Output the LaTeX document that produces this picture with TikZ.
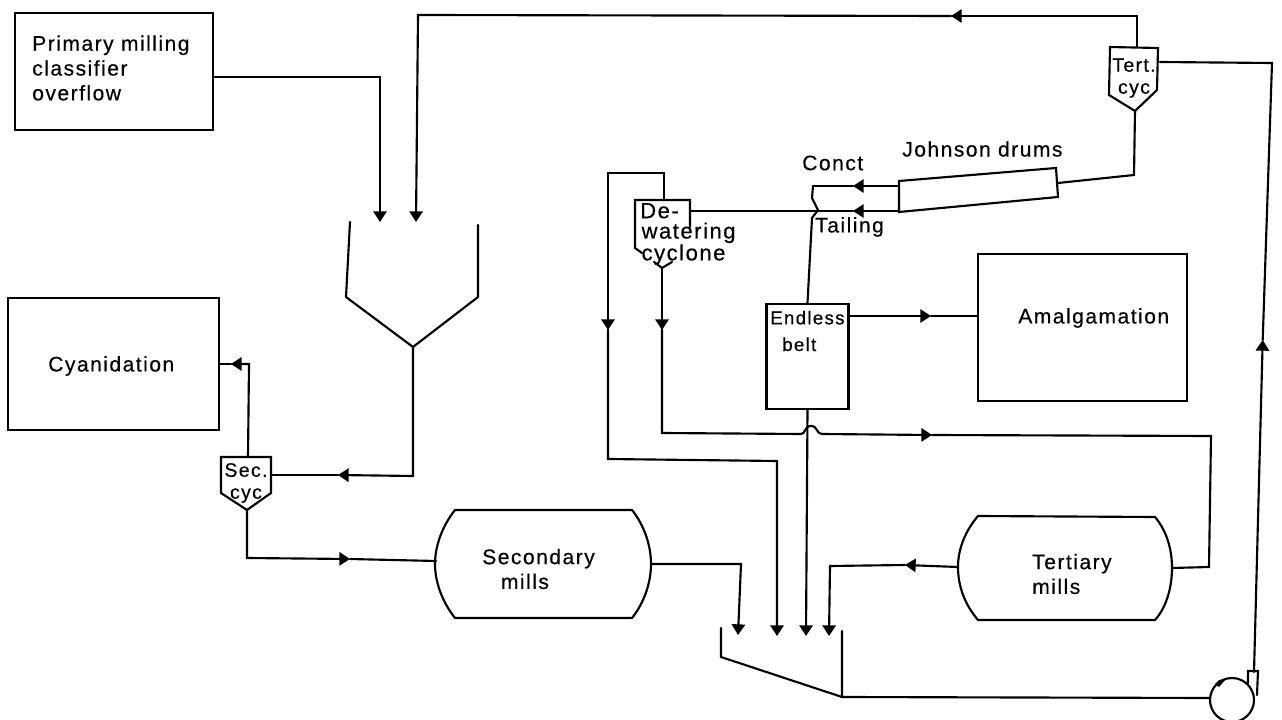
\documentclass[tikz,border=0pt]{standalone}
\usepackage{fontspec}
\setmainfont[LetterSpace=7,FakeBold=0.4]{Liberation Sans}
\usetikzlibrary{arrows.meta}
\tikzset{
  x=0.75pt,y=-0.75pt,
  line/.style={line width=1.6pt,line join=miter,line cap=round,black},
  fin/.style={line,-{Triangle[length=8pt,width=10pt]}},
  boxn/.style={draw,line width=1.6pt,inner sep=0pt},
  lab/.style={font=\fontsize{15.8pt}{18.6pt}\selectfont,align=left,inner sep=0pt},
  small/.style={font=\fontsize{14.6pt}{16.5pt}\selectfont,align=left,inner sep=0pt},
  dwlab/.style={font=\fontsize{16.5pt}{15.2pt}\selectfont,align=left,inner sep=0pt},
  beltlab/.style={font=\fontsize{14pt}{20pt}\selectfont,align=left,inner sep=0pt},
}
\begin{document}
\begin{tikzpicture}
\useasboundingbox (0,0) rectangle (1282,720);
% boxes
\node[boxn,minimum width=198*0.75pt,minimum height=117*0.75pt] (primary) at (114,71.5) {};
\node[boxn,minimum width=211*0.75pt,minimum height=132*0.75pt] (cyan) at (113.5,364) {};
\node[boxn,minimum width=209*0.75pt,minimum height=147*0.75pt] (amal) at (1082.5,327.5) {};
\node[boxn,minimum width=82*0.75pt,minimum height=105*0.75pt] (belt) at (807.5,356.5) {};
% box labels
\node[lab,anchor=west] (tprimary) at (32,68) {Primary milling\\classifier\\overflow};
\node[lab,anchor=west] (tcyan) at (48,366) {Cyanidation};
\node[lab,anchor=west] (tamal) at (1018,318) {Amalgamation};
\node[beltlab,anchor=west] (tbelt) at (770,331) {Endless\\\hspace*{9pt}belt};
\node[lab,anchor=west] (tjohn) at (902,149) {Johnson drums};
\node[lab,anchor=west] (tconct) at (802,163) {Conct};
\node[lab,anchor=west] (ttail) at (815,227) {Tailing};
\node[lab,anchor=west] (tsec) at (482,569) {Secondary\\\hspace*{14pt}mills};
\node[lab,anchor=west] (tter) at (1032,574) {Tertiary\\mills};
% mills
\coordinate (secL) at (435,564); \coordinate (secR) at (651,564); \coordinate (secIn) at (436,561);
\draw[line] (455,510) -- (632,510) .. controls (644,525) and (651,545) .. (secR) .. controls (651,583) and (644,603) .. (632,618) -- (455,618) .. controls (443,603) and (435,583) .. (secL) .. controls (435,545) and (443,525) .. cycle;
\coordinate (terL) at (958,567); \coordinate (terR) at (1172,568);
\draw[line] (978,516) -- (1155,517) .. controls (1166,530) and (1172,548) .. (terR) .. controls (1172,588) and (1166,608) .. (1155,620) -- (978,620) .. controls (966,606) and (958,588) .. (terL) .. controls (958,548) and (966,530) .. cycle;
% receiving hopper
\coordinate (hopTip) at (413,347);
\draw[line] (350,222) -- (346,297) -- (hopTip) -- (478,297) -- (478,225);
% sec cyc
\coordinate (scT) at (248,457); \coordinate (scB) at (247,510); \coordinate (scR) at (272,475);
\draw[line] (221,457) -- (271,457) -- (271,493) -- (scB) -- (221,493) -- cycle;
\node[small,align=center] (tsc) at (246,483) {Sec.\\cyc};
% tert cyc
\coordinate (tcT) at (1137,47); \coordinate (tcB) at (1135,111); \coordinate (tcR) at (1160,62);
\draw[line] (1110,47) -- (1158,48) -- (1157,90) -- (tcB) -- (1109,95) -- cycle;
\node[small,align=center] (ttc) at (1134,78) {Tert.\\cyc};
% dewatering cyclone
\coordinate (dwT) at (664,200); \coordinate (dwR) at (690,211); \coordinate (dwB) at (662,268);
\draw[line] (690,227) -- (690,200) -- (635,200) -- (635,248) -- (642,253);
\draw[line] (654,262) -- (dwB) -- (672,262);
\node[dwlab,anchor=west] (tdw) at (640,234) {De-\\\hspace*{1pt}watering\\\hspace*{1pt}cyclone};
% johnson drum
\coordinate (jdL1) at (899,186); \coordinate (jdL2) at (899,211); \coordinate (jdR) at (1058,183);
\draw[line] (899,181) -- (1056,168) -- (1058,197) -- (899,212) -- cycle;
% tank
\coordinate (tkIn) at (842,697);
\draw[line] (721,628) -- (721,657) -- (tkIn) -- (842,631);
% pump
\coordinate (pmpC) at (1232,700); \coordinate (pmpL) at (1210,698); \coordinate (pmpO) at (1254,672);
\draw[line] (pmpC) circle[radius=22];
\draw[line] (1248,683) -- (1248,671) -- (1258,671) -- (1257,695);
\fill (1215,684) -- (1219,680) -- (1226,679) -- (1219,687) -- cycle;
% waypoints
\coordinate (a1) at (380,77); \coordinate (a1e) at (380,222);
\coordinate (a2) at (416,222); \coordinate (a2t) at (418,15); \coordinate (a2m) at (951,16); \coordinate (a2r) at (1137,16);
\coordinate (b1) at (413,476); \coordinate (b1m) at (338,475);
\coordinate (c1) at (249,364); \coordinate (c1m) at (231,364); \coordinate (cyanR) at (219,364);
\coordinate (d1) at (247,558); \coordinate (d1m) at (350,559);
\coordinate (e1) at (741,564); \coordinate (e2) at (738,635);
\coordinate (f1) at (664,173); \coordinate (f2) at (608,173); \coordinate (f3) at (608,459); \coordinate (f3m) at (608,330); \coordinate (f4) at (777,461); \coordinate (f5) at (777,636);
\coordinate (g1m) at (662,330); \coordinate (g2) at (662,433); \coordinate (g3) at (801,434); \coordinate (g4) at (822,434); \coordinate (g4m) at (932,435); \coordinate (g5) at (1211,436); \coordinate (g6) at (1209,567);
\coordinate (h1) at (830,566); \coordinate (h1m) at (905,565); \coordinate (h2) at (829,636);
\coordinate (i1) at (806,636);
\coordinate (j2) at (812,218); \coordinate (j3) at (818,210); \coordinate (j4) at (812,198); \coordinate (j5) at (813,186); \coordinate (j1m) at (853,186); \coordinate (j2m) at (853,211);
\coordinate (k1m) at (931,316); \coordinate (l1) at (1134,175);
\coordinate (n1) at (1272,63); \coordinate (n1m) at (1262.7,340);
% connectors
\draw[fin] (primary.east |- a1) -- (a1) -- (a1e);
\draw[fin] (tcT) -- (a2r) -- (a2m);
\draw[fin] (a2m) -- (a2t) -- (a2);
\draw[fin] (hopTip) -- (b1) -- (b1m);
\draw[line] (b1m) -- (scR);
\draw[fin] (scT) -- (c1) -- (c1m);
\draw[line] (c1m) -- (cyanR);
\draw[fin] (scB) -- (d1) -- (d1m);
\draw[line] (d1m) -- (secIn);
\draw[fin] (secR) -- (e1) -- (e2);
\draw[fin] (dwT) -- (f1) -- (f2) -- (f3m);
\draw[fin] (f3m) -- (f3) -- (f4) -- (f5);
\draw[fin] (dwB) -- (g1m);
\draw[line] (g1m) -- (g2) -- (g3) .. controls (806,434) and (804,426) .. (811,426) .. controls (818,426) and (816,434) .. (g4);
\draw[fin] (g4) -- (g4m);
\draw[line] (g4m) -- (g5) -- (g6) -- (terR);
\draw[fin] (terL) -- (h1m);
\draw[fin] (h1m) -- (h1) -- (h2);
\draw[fin] (belt.south) -- (i1);
\draw[line] (belt.north) -- (j2) -- (j3) -- (j4) -- (j5);
\draw[fin] (jdL1) -- (j1m);
\draw[line] (j1m) -- (j5);
\draw[fin] (jdL2) -- (j2m);
\draw[line] (j2m) -- (dwR);
\draw[fin] (belt.east |- k1m) -- (k1m);
\draw[line] (k1m) -- (amal.west |- k1m);
\draw[line] (jdR) -- (l1) -- (tcB);
\draw[line] (tcR) -- (n1) -- (n1m);
\draw[line] (tkIn) -- (pmpL);
\draw[fin] (pmpO) -- (n1m);
\end{tikzpicture}
\end{document}
